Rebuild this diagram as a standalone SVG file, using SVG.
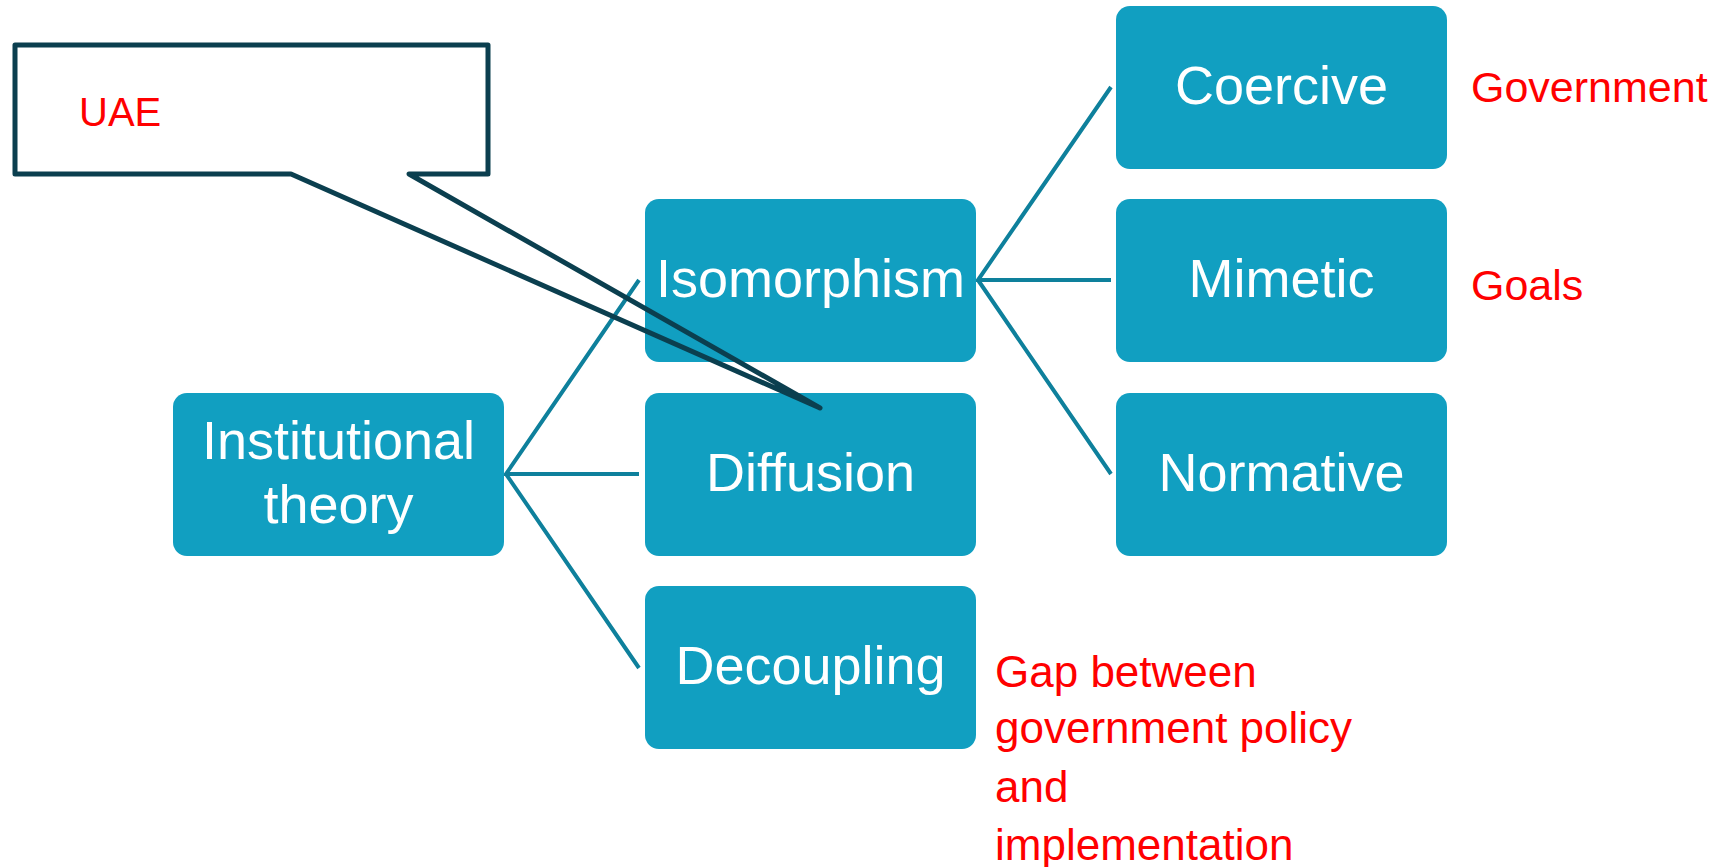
<svg xmlns="http://www.w3.org/2000/svg" width="1725" height="867" viewBox="0 0 1725 867">
<style>
.box{fill:#119FC1;}
.lbl{fill:#FFFFFF;font-family:"Liberation Sans",Arial,sans-serif;font-size:54px;text-anchor:middle;}
.note{fill:#FF0000;font-family:"Liberation Sans",Arial,sans-serif;font-size:43px;}
.conn{stroke:#0E809C;stroke-width:4;fill:none;}
</style>
<rect width="1725" height="867" fill="#FFFFFF"/>
<g id="connectors">
<path class="conn" d="M639,280 L506,474 L639,474 M506,474 L639,668"/>
<path class="conn" d="M1111,87 L978,280 L1111,280 M978,280 L1111,474"/>
</g>
<g id="node-institutional">
<rect class="box" x="173" y="393" width="331" height="163" rx="14"/>
<text class="lbl" x="338.5" y="459">Institutional</text>
<text class="lbl" x="338.5" y="523">theory</text>
</g>
<g id="node-isomorphism">
<rect class="box" x="645" y="199" width="331" height="163" rx="14"/>
<text class="lbl" x="810.5" y="297">Isomorphism</text>
</g>
<g id="node-diffusion">
<rect class="box" x="645" y="393" width="331" height="163" rx="14"/>
<text class="lbl" x="810.5" y="491">Diffusion</text>
</g>
<g id="node-decoupling">
<rect class="box" x="645" y="586" width="331" height="163" rx="14"/>
<text class="lbl" x="810.5" y="684">Decoupling</text>
</g>
<g id="node-coercive">
<rect class="box" x="1116" y="6" width="331" height="163" rx="14"/>
<text class="lbl" x="1281.5" y="104">Coercive</text>
</g>
<g id="node-mimetic">
<rect class="box" x="1116" y="199" width="331" height="163" rx="14"/>
<text class="lbl" x="1281.5" y="297">Mimetic</text>
</g>
<g id="node-normative">
<rect class="box" x="1116" y="393" width="331" height="163" rx="14"/>
<text class="lbl" x="1281.5" y="491">Normative</text>
</g>
<g id="notes">
<text class="note" x="1471" y="102">Government</text>
<text class="note" x="1471" y="300">Goals</text>
<text class="note" x="995" y="687" style="font-size:44px">Gap between</text>
<text class="note" x="995" y="743" style="font-size:44px">government policy</text>
<text class="note" x="995" y="802" style="font-size:44px">and</text>
<text class="note" x="995" y="860" style="font-size:44px">implementation</text>
</g>
<g id="callout-uae">
<rect x="15" y="45" width="473" height="129" fill="#FFFFFF"/>
<path d="M291,174 H15 V45 H488 V174 H409 L820,408 Z" fill="none" stroke="#0B3F4F" stroke-width="5" stroke-linejoin="round" stroke-linecap="round"/>
<text x="79" y="126" style="fill:#FF0000;font-family:'Liberation Sans',Arial,sans-serif;font-size:40px">UAE</text>
</g>
</svg>
